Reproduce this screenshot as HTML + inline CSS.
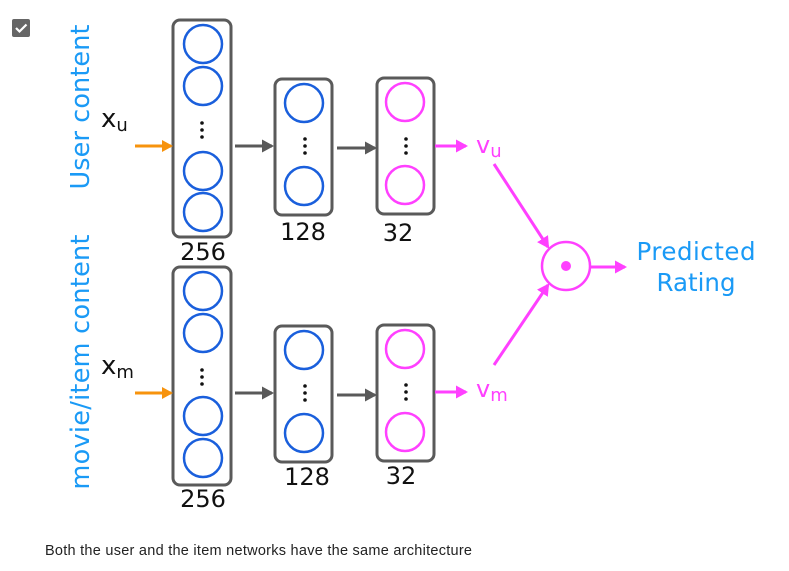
<!DOCTYPE html>
<html><head><style>
body{margin:0;background:#fff;width:789px;height:571px;overflow:hidden}
svg{display:block}
</style></head><body>
<svg width="789" height="571" viewBox="0 0 789 571" xmlns="http://www.w3.org/2000/svg" font-family="DejaVu Sans, Liberation Sans, sans-serif">
<defs>
<marker id="ao" markerWidth="11" markerHeight="12" refX="9" refY="6" orient="auto" markerUnits="userSpaceOnUse"><path d="M0,0 L11,6 L0,12 z" fill="#f7930d"/></marker>
<marker id="ag" markerWidth="12" markerHeight="13" refX="10" refY="6.5" orient="auto" markerUnits="userSpaceOnUse"><path d="M0,0 L12,6.5 L0,13 z" fill="#595959"/></marker>
<marker id="ap" markerWidth="12" markerHeight="13" refX="10" refY="6.5" orient="auto" markerUnits="userSpaceOnUse"><path d="M0,0 L12,6.5 L0,13 z" fill="#ff40ff"/></marker>
</defs>
<rect x="12" y="19" width="18" height="18" rx="2" fill="#666"/>
<path d="M16 28 l3.5 3.5 l7 -7" stroke="#fff" stroke-width="2.2" fill="none"/>
<text transform="translate(89,107) rotate(-90)" text-anchor="middle" font-size="25.5" fill="#1a9af6" textLength="165">User content</text>
<text transform="translate(89,362) rotate(-90)" text-anchor="middle" font-size="25.5" fill="#1a9af6" textLength="255">movie/item content</text>
<g stroke="#5a5a5a" stroke-width="3" fill="none">
<rect x="173" y="20" width="58" height="217" rx="7"/>
<rect x="275" y="79" width="57" height="136" rx="7"/>
<rect x="377" y="78" width="57" height="136" rx="7"/>
<rect x="173" y="267" width="58" height="218" rx="7"/>
<rect x="275" y="326" width="57" height="136" rx="7"/>
<rect x="377" y="325" width="57" height="136" rx="7"/>
</g>
<g stroke="#1a5fdc" stroke-width="2.5" fill="none">
<circle cx="203" cy="44" r="19"/><circle cx="203" cy="86" r="19"/><circle cx="203" cy="171" r="19"/><circle cx="203" cy="212" r="19"/>
<circle cx="304" cy="103" r="19"/><circle cx="304" cy="186" r="19"/>
<circle cx="203" cy="291" r="19"/><circle cx="203" cy="333" r="19"/><circle cx="203" cy="416" r="19"/><circle cx="203" cy="458" r="19"/>
<circle cx="304" cy="350" r="19"/><circle cx="304" cy="433" r="19"/>
</g>
<g stroke="#ff40ff" stroke-width="2.5" fill="none">
<circle cx="405" cy="102" r="19"/><circle cx="405" cy="185" r="19"/>
<circle cx="405" cy="349" r="19"/><circle cx="405" cy="432" r="19"/>
<circle cx="566" cy="266" r="24"/>
</g>
<circle cx="566" cy="266" r="5" fill="#ff40ff"/>
<g fill="#111">
<circle cx="202" cy="123" r="1.8"/><circle cx="202" cy="130" r="1.8"/><circle cx="202" cy="137" r="1.8"/>
<circle cx="305" cy="139" r="1.8"/><circle cx="305" cy="146" r="1.8"/><circle cx="305" cy="153" r="1.8"/>
<circle cx="406" cy="139" r="1.8"/><circle cx="406" cy="146" r="1.8"/><circle cx="406" cy="153" r="1.8"/>
<circle cx="202" cy="370" r="1.8"/><circle cx="202" cy="377" r="1.8"/><circle cx="202" cy="384" r="1.8"/>
<circle cx="305" cy="386" r="1.8"/><circle cx="305" cy="393" r="1.8"/><circle cx="305" cy="400" r="1.8"/>
<circle cx="406" cy="385" r="1.8"/><circle cx="406" cy="392" r="1.8"/><circle cx="406" cy="399" r="1.8"/>
</g>
<g stroke-width="3">
<line x1="135" y1="146" x2="171" y2="146" stroke="#f7930d" marker-end="url(#ao)"/>
<line x1="135" y1="393" x2="171" y2="393" stroke="#f7930d" marker-end="url(#ao)"/>
<line x1="235" y1="146" x2="272" y2="146" stroke="#595959" marker-end="url(#ag)"/>
<line x1="337" y1="148" x2="375" y2="148" stroke="#595959" marker-end="url(#ag)"/>
<line x1="235" y1="393" x2="272" y2="393" stroke="#595959" marker-end="url(#ag)"/>
<line x1="337" y1="395" x2="375" y2="395" stroke="#595959" marker-end="url(#ag)"/>
<line x1="435" y1="146" x2="466" y2="146" stroke="#ff40ff" marker-end="url(#ap)"/>
<line x1="435" y1="392" x2="466" y2="392" stroke="#ff40ff" marker-end="url(#ap)"/>
<line x1="494" y1="164" x2="548" y2="247" stroke="#ff40ff" marker-end="url(#ap)"/>
<line x1="494" y1="365" x2="548" y2="285" stroke="#ff40ff" marker-end="url(#ap)"/>
<line x1="591" y1="267" x2="625" y2="267" stroke="#ff40ff" marker-end="url(#ap)"/>
</g>
<g font-size="24" fill="#111" text-anchor="middle">
<text x="203" y="260">256</text><text x="303" y="240">128</text><text x="398" y="241">32</text>
<text x="203" y="507">256</text><text x="307" y="485">128</text><text x="401" y="484">32</text>
</g>
<text x="101" y="127" font-size="26" fill="#111">x<tspan font-size="18" dy="4">u</tspan></text>
<text x="101" y="374" font-size="26" fill="#111">x<tspan font-size="18" dy="4">m</tspan></text>
<text x="476" y="153" font-size="24" fill="#ff40ff">v<tspan font-size="18" dy="4">u</tspan></text>
<text x="476" y="397" font-size="24" fill="#ff40ff">v<tspan font-size="18" dy="4">m</tspan></text>
<g font-size="24.5" fill="#1a9af6" text-anchor="middle">
<text x="696" y="260" textLength="119">Predicted</text><text x="696" y="291">Rating</text>
</g>
<text x="45" y="555" font-family="Liberation Sans, sans-serif" font-size="14.5" fill="#222" textLength="427">Both the user and the item networks have the same architecture</text>
</svg>
</body></html>
